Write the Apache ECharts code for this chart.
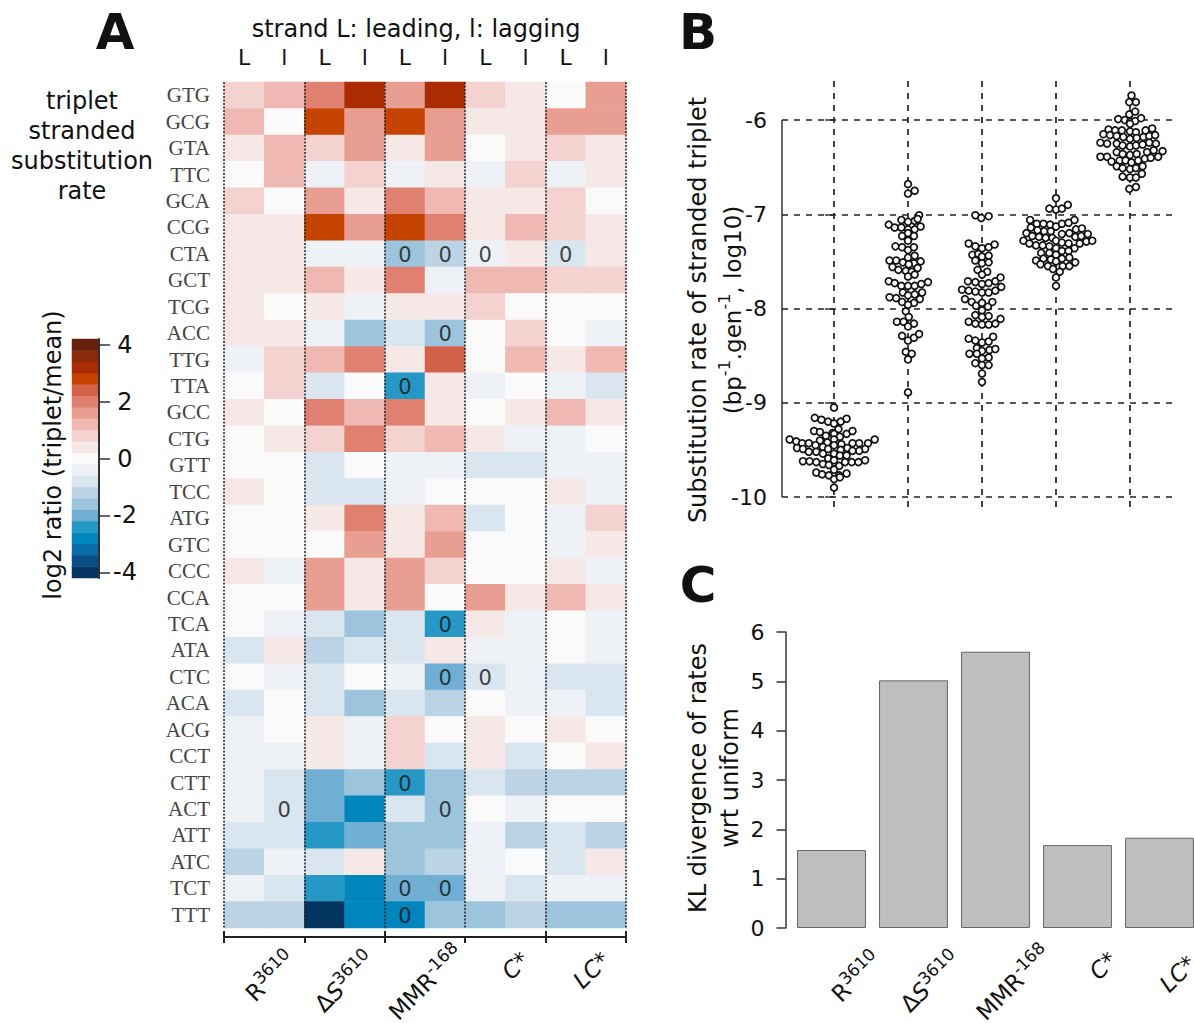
<!DOCTYPE html>
<html>
<head>
<meta charset="utf-8">
<title>Triplet substitution rates</title>
<script src="https://cdn.jsdelivr.net/npm/echarts@6/dist/echarts.min.js"></script>
<style>
  html, body { margin: 0; padding: 0; background: #fff; }
  #main { width: 1194px; height: 1023px; }
</style>
</head>
<body>
<div id="main"></div>
<script>
const FONT = '"DejaVu Sans", sans-serif';
const TEXTCOLOR = '#111';

const triplets = ['GTG','GCG','GTA','TTC','GCA','CCG','CTA','GCT','TCG','ACC','TTG','TTA','GCC','CTG','GTT','TCC',
  'ATG','GTC','CCC','CCA','TCA','ATA','CTC','ACA','ACG','CCT','CTT','ACT','ATT','ATC','TCT','TTT'];
const strands = ['L','l','L','l','L','l','L','l','L','l'];
const conditions = ['{b|R}{s|3610}', '{b|Δ}{i|S}{s|3610}', '{b|MMR}{s|-168}', '{i|C*}', '{i|LC*}'];

// log2(triplet/mean), one row per triplet, columns as in strands
const log2Ratio = [
  [.8,1.2,2,3.2,1.6,3.2,.8,.4,0,1.6],
  [1.2,0,2.8,1.6,2.8,1.6,.4,.4,1.6,1.6],
  [.4,1.2,.8,1.6,.4,1.6,0,.4,.8,.4],
  [0,1.2,-.4,.8,-.4,.4,-.4,.8,-.4,.4],
  [.8,0,1.6,.4,2,1.2,.4,.4,.8,0],
  [.4,.4,2.8,1.6,2.8,2,.4,1.2,.8,.4],
  [.4,.4,-.4,-.4,-1.6,-1.2,-.4,.4,-.8,.4],
  [.4,.4,1.2,.4,2,-.4,1.2,1.2,.8,.8],
  [.4,0,.4,-.4,.4,.4,.8,0,0,0],
  [.4,.4,-.4,-1.6,-.8,-1.6,0,.8,0,-.4],
  [-.4,.8,1.2,2,.4,2.4,0,1.2,.4,1.2],
  [0,.8,-.8,0,-2.4,.4,-.4,0,-.4,-.8],
  [.4,0,2,1.2,2,.4,0,.4,1.2,.4],
  [0,.4,.8,2,.8,1.2,.4,-.4,-.4,0],
  [0,0,-.8,0,-.4,-.4,-.8,-.8,-.4,-.4],
  [.4,0,-.8,-.8,-.4,0,0,0,.4,-.4],
  [0,0,.4,2,.4,1.2,-.8,0,-.4,.8],
  [0,0,0,1.6,.4,1.6,0,0,-.4,.4],
  [.4,-.4,1.6,.4,1.6,.8,0,0,.4,-.4],
  [0,0,1.6,.4,1.6,0,1.6,.4,1.2,.4],
  [0,-.4,-.8,-1.6,-.8,-2.4,.4,-.4,0,-.4],
  [-.8,.4,-1.2,-.8,-.8,.4,-.4,-.4,0,-.4],
  [0,-.4,-.8,0,-.4,-2,-.8,-.4,-.8,-.8],
  [-.8,0,-.8,-1.6,-.8,-1.2,0,-.4,-.4,-.8],
  [-.4,0,.4,-.4,.8,0,.4,0,.4,0],
  [-.4,-.4,.4,-.4,.8,-.8,.4,-.8,0,.4],
  [-.4,-.8,-2,-1.6,-2.4,-1.6,-.8,-1.2,-1.2,-1.2],
  [-.4,-.8,-2,-2.8,-.8,-1.6,0,-.4,0,0],
  [-.8,-.8,-2.4,-2,-1.6,-1.6,-.4,-1.2,-.8,-1.2],
  [-1.2,-.4,-.8,.4,-1.6,-1.2,-.4,0,-.8,.4],
  [-.4,-.8,-2.4,-2.8,-2,-2,-.4,-.8,-.4,-.4],
  [-1.2,-1.2,-4,-2.8,-2.8,-1.6,-1.6,-1.2,-1.6,-1.6]
];

// cells holding no observed substitution: [column, row]
const zeroCells = [[4,6],[5,6],[6,6],[8,6],[5,9],[4,11],[5,20],[5,22],[6,22],[4,26],[1,27],[5,27],[4,30],[5,30],[4,31]];

const colorbarLevels = [-3.96,-3.56,-3.17,-2.77,-2.38,-1.98,-1.58,-1.19,-.79,-.4,0,.4,.79,1.19,1.58,1.98,2.38,2.77,3.17,3.56,3.96];
const colorbarColors = ['#033560','#0a4f83','#0a6ca8','#0086bd','#2698c6','#70afd3','#9cc4dd','#bcd3e6','#d9e5ef','#eef1f6','#fafafa',
  '#f5e8e6','#f3d2cf','#f0b8b2','#e99e92','#e08070','#d4624a','#c54400','#aa2c00','#8a2a0a','#67200c'];

// panel B, one list per condition: [sideways offset in the swarm, log10 rate]
const swarmR = [[0,-9.05],[-.26,-9.16],[-.17,-9.18],[-.08,-9.2],[0,-9.22],[.09,-9.2],[.17,-9.17],[-.27,-9.3],[-.19,-9.31],[-.11,-9.35],[-.02,-9.32],[.06,-9.28],[.17,-9.33],[.25,-9.3],
  [0,-9.33],[.08,-9.36],[0,-9.39],[-.6,-9.39],[-.51,-9.41],[-.43,-9.43],[-.34,-9.43],[-.19,-9.4],[-.09,-9.42],[.1,-9.44],[.25,-9.43],[.34,-9.43],[.46,-9.43],[.55,-9.39],
  [-.5,-9.48],[-.42,-9.49],[-.25,-9.45],[-.15,-9.47],[0,-9.45],[.18,-9.48],[.42,-9.49],[.34,-9.51],[.25,-9.51],[.09,-9.5],[-.34,-9.52],[-.24,-9.52],[-.15,-9.54],[-.08,-9.49],
  [0,-9.54],[.08,-9.56],[.17,-9.56],[-.08,-9.59],[-.42,-9.62],[-.33,-9.62],[-.24,-9.63],[-.15,-9.65],[-.07,-9.66],[0,-9.61],[.07,-9.67],[.15,-9.63],[.24,-9.63],[.33,-9.63],[.42,-9.61],
  [-.24,-9.74],[-.16,-9.76],[-.07,-9.77],[0,-9.71],[.07,-9.77],[.17,-9.75],[0,-9.81],[.08,-9.79],[0,-9.9]];
const swarmS = [[0,-6.68],[.09,-6.75],[0,-6.78],[.15,-7.01],[.09,-7.07],[0,-7.08],[-.09,-7.06],[-.26,-7.11],[-.18,-7.14],[-.09,-7.14],[0,-7.16],[.09,-7.16],[.17,-7.13],[.13,-7.05],
  [-.08,-7.23],[0,-7.2],[.08,-7.23],[0,-7.28],[-.17,-7.34],[-.08,-7.35],[0,-7.38],[.08,-7.35],[.09,-7.44],[0,-7.46],[-.25,-7.49],[-.16,-7.49],[-.07,-7.51],[.17,-7.5],[.08,-7.52],[.01,-7.53],
  [-.21,-7.56],[-.13,-7.59],[-.03,-7.6],[.05,-7.61],[.13,-7.57],[0,-7.66],[.09,-7.64],[-.26,-7.71],[-.18,-7.73],[-.09,-7.76],[0,-7.76],[.09,-7.76],[.18,-7.74],[.27,-7.72],
  [-.07,-7.83],[.09,-7.85],[.19,-7.83],[-.25,-7.88],[-.16,-7.89],[0,-7.86],[.16,-7.9],[-.08,-7.93],[.08,-7.94],[0,-7.96],[-.03,-8.03],[.01,-8.09],[-.15,-8.14],[-.06,-8.14],[.08,-8.16],[0,-8.19],
  [-.08,-8.29],[0,-8.34],[.08,-8.31],[.15,-8.27],[-.03,-8.46],[.05,-8.48],[0,-8.54],[0,-8.89]];
const swarmM = [[-.09,-7.01],[-.01,-7.04],[.09,-7.02],[-.18,-7.31],[-.09,-7.34],[0,-7.36],[.09,-7.35],[.17,-7.32],[-.13,-7.43],[-.05,-7.42],[0,-7.45],[.09,-7.44],[-.09,-7.49],[0,-7.52],[.09,-7.51],
  [-.06,-7.59],[.07,-7.61],[0,-7.64],[-.19,-7.71],[-.09,-7.72],[0,-7.74],[.09,-7.73],[.18,-7.71],[.25,-7.67],[-.27,-7.8],[-.18,-7.81],[-.09,-7.82],[0,-7.83],[.09,-7.83],[.18,-7.81],[.26,-7.77],
  [-.23,-7.9],[-.14,-7.93],[-.08,-7.97],[0,-7.94],[.08,-7.98],[.14,-7.93],[0,-8.02],[-.09,-8.07],[.09,-8.08],[0,-8.09],[-.18,-8.14],[-.09,-8.16],[0,-8.17],[.09,-8.17],[.18,-8.16],[.25,-8.11],
  [-.18,-8.32],[-.09,-8.34],[0,-8.36],[.09,-8.35],[.15,-8.3],[-.07,-8.42],[0,-8.45],[.1,-8.44],[.18,-8.43],[-.17,-8.48],[-.07,-8.48],[.09,-8.52],[0,-8.53],[-.09,-8.58],[0,-8.6],[.09,-8.6],[0,-8.69],[0,-8.78]];
const swarmC = [[0,-6.83],[-.09,-6.94],[0,-6.95],[.08,-6.94],[.16,-6.9],[-.35,-7.06],[-.26,-7.1],[-.17,-7.1],[-.08,-7.11],[0,-7.13],[.08,-7.1],[.17,-7.09],[.25,-7.06],
  [-.34,-7.14],[-.25,-7.17],[-.16,-7.18],[-.07,-7.18],[.27,-7.16],[.35,-7.15],[-.4,-7.2],[-.32,-7.23],[-.23,-7.24],[-.14,-7.25],[-.05,-7.25],[.08,-7.21],[.18,-7.2],[.26,-7.24],[.34,-7.23],[.43,-7.21],
  [-.44,-7.28],[-.36,-7.31],[-.27,-7.33],[-.18,-7.33],[-.09,-7.34],[0,-7.28],[.08,-7.3],[.17,-7.31],[.25,-7.36],[.32,-7.31],[.41,-7.29],[.49,-7.28],[0,-7.36],[.08,-7.39],[.17,-7.39],
  [-.2,-7.41],[-.09,-7.41],[0,-7.43],[-.27,-7.49],[-.17,-7.47],[-.07,-7.48],[.08,-7.47],[.18,-7.46],[.26,-7.51],[-.21,-7.53],[-.11,-7.55],[0,-7.5],[.09,-7.55],[.18,-7.55],[-.04,-7.58],[.05,-7.61],[0,-7.67],[0,-7.76]];
const swarmLC = [[.02,-5.74],[-.01,-5.81],[.08,-5.81],[-.01,-5.94],[.07,-5.91],[-.16,-5.99],[-.07,-6],[0,-6.02],[.07,-6.01],[.15,-5.98],[0,-6.04],[-.29,-6.1],[-.2,-6.11],[-.11,-6.11],[0,-6.12],[.08,-6.13],[.21,-6.11],[.3,-6.09],
  [-.36,-6.15],[-.27,-6.16],[-.18,-6.17],[-.09,-6.18],[0,-6.2],[.09,-6.19],[.18,-6.18],[.26,-6.17],[.34,-6.16],[-.4,-6.24],[-.31,-6.25],[-.18,-6.25],[-.1,-6.27],[0,-6.28],[.08,-6.27],[.17,-6.26],[.26,-6.24],[.35,-6.25],
  [-.18,-6.34],[-.1,-6.36],[0,-6.37],[.09,-6.36],[.23,-6.34],[.32,-6.32],[.44,-6.33],[-.4,-6.39],[-.31,-6.39],[-.25,-6.44],[-.14,-6.43],[-.06,-6.43],[.02,-6.45],[.11,-6.43],[.2,-6.41],[.28,-6.4],[.38,-6.39],
  [-.18,-6.49],[-.1,-6.51],[0,-6.52],[.08,-6.51],[.17,-6.49],[.16,-6.57],[-.1,-6.6],[0,-6.61],[.08,-6.61],[.08,-6.71],[-.01,-6.73]];
const swarms = [swarmR, swarmS, swarmM, swarmC, swarmLC];

const rateTicks = [-10,-9,-8,-7,-6];
const swarmPositions = [0,1,2,3,4];
const swarmXMin = -0.703;

// panel C
const klDivergence = [1.58, 5.02, 5.6, 1.68, 1.83];

const richLabel = {
  b: { fontFamily: FONT, fontSize: 23, color: TEXTCOLOR, lineHeight: 27, verticalAlign: 'bottom' },
  i: { fontFamily: FONT, fontSize: 23, color: TEXTCOLOR, fontStyle: 'italic', lineHeight: 27, verticalAlign: 'bottom' },
  s: { fontFamily: FONT, fontSize: 17, color: TEXTCOLOR, lineHeight: 27, verticalAlign: 'top' }
};

// rotated labels sit past their tick, each nudged on its own
const labelPadA = [[0,-38,3,0], [0,-37,4.2,0], [0,-47.5,1.4,0], [0,-32.6,12.8,0], [0,-32.6,12.8,0]];
const labelPadC = [[0,-65,4.2,0], [0,-63,8.4,0], [0,-73.4,5.6,0], [0,-57.5,19,0], [0,-53,18,0]];
const paddedConditions = pads => conditions.map((value, i) => ({ value, textStyle: { padding: pads[i] } }));

const heatCells = [];
log2Ratio.forEach((row, r) => row.forEach((v, c) => heatCells.push([c, r, v])));
const colorbarCells = colorbarLevels.map((v, i) => [0, i, v]);
const bandWidth = 0.396;
const pieces = colorbarColors.map((color, i) => ({
  min: (i - 10.5) * bandWidth,
  max: (i - 9.5) * bandWidth,
  color
}));

function label(text, x, y, size, extra) {
  return {
    type: 'text', x, y, z: 50,
    style: Object.assign({ text, fill: TEXTCOLOR, font: size + 'px ' + FONT, textAlign: 'center', textVerticalAlign: 'middle' }, extra)
  };
}
function sideLabel(text, x, y, size) {
  const el = label(text, x, y, size);
  el.rotation = Math.PI / 2;
  return el;
}
const panelLetter = (text, x, y) => label(text, x, y, 50, { font: 'bold 50px ' + FONT });

const myChart = echarts.init(document.getElementById('main'), null, { renderer: 'svg' });

myChart.setOption({
  animation: false,
  backgroundColor: '#fff',
  textStyle: { fontFamily: FONT },
  grid: [
    { left: 224, top: 82, width: 402, height: 846, outerBoundsMode: 'none' },       // heat map
    { left: 72, top: 339, width: 27, height: 239, outerBoundsMode: 'none' },        // colour bar
    { left: 782, top: 80, width: 393, height: 427, outerBoundsMode: 'none' },       // swarm
    { left: 790.5, top: 632, width: 410, height: 296, outerBoundsMode: 'none' }     // bars
  ],
  visualMap: { show: false, type: 'piecewise', seriesIndex: [0, 1], pieces },
  xAxis: [
    {
      gridIndex: 0, type: 'category', position: 'top', data: strands,
      axisLine: { show: false }, axisTick: { show: false },
      axisLabel: { interval: 0, margin: 14, fontSize: 22, color: TEXTCOLOR, fontFamily: FONT }
    },
    {
      gridIndex: 0, type: 'category', position: 'bottom', offset: 9, z: 10, data: paddedConditions(labelPadA),
      axisLine: { show: true, lineStyle: { color: '#222', width: 2 } },
      axisTick: { show: true, length: 6, lineStyle: { color: '#222', width: 2 } },
      splitLine: { show: true, interval: 0, lineStyle: { color: '#222', type: [2, 1.5], width: 1.5 } },
      axisLabel: {
        interval: 0, rotate: 45, margin: 45, align: 'right', verticalAlign: 'middle', rich: richLabel
      }
    },
    {
      gridIndex: 0, type: 'category', position: 'bottom', offset: 9, data: conditions,
      axisLine: { show: false }, axisLabel: { show: false },
      axisTick: { show: true, inside: true, length: 6, lineStyle: { color: '#222', width: 2 } }
    },
    { gridIndex: 1, type: 'category', data: ['bar'], show: false },
    {
      gridIndex: 2, type: 'value', min: swarmXMin, max: 4.608,
      axisLine: { show: false }, axisLabel: { show: false },
      axisTick: { show: false },
      splitLine: { show: false }
    },
    {
      gridIndex: 3, type: 'category', data: paddedConditions(labelPadC),
      axisLine: { show: false }, axisTick: { show: false },
      axisLabel: {
        interval: 0, rotate: 45, margin: 74, align: 'right', verticalAlign: 'middle', rich: richLabel
      }
    }
  ],
  yAxis: [
    {
      gridIndex: 0, type: 'category', inverse: true, data: triplets,
      axisLine: { show: false }, axisTick: { show: false },
      axisLabel: { interval: 0, margin: 14, fontSize: 21, color: '#444', fontFamily: '"Liberation Serif", serif' }
    },
    {
      gridIndex: 1, type: 'category', position: 'right', data: colorbarLevels, z: 10,
      axisLine: { show: true, lineStyle: { color: '#333', width: 2 } },
      axisTick: { show: true, interval: 4, alignWithLabel: true, length: 11, lineStyle: { color: '#333', width: 1.5 } },
      axisLabel: {
        interval: 4, margin: 26, fontSize: 24, color: TEXTCOLOR, align: 'center',
        formatter: v => String(Math.round(+v))
      }
    },
    {
      gridIndex: 2, type: 'value', min: -10.106, max: -5.575,
      axisLine: { show: false },
      axisTick: { show: true, length: 9, customValues: rateTicks, lineStyle: { color: '#333', width: 1.5 } },
      axisLabel: { margin: 15, fontSize: 22, color: TEXTCOLOR, customValues: rateTicks },
      splitLine: { show: false }
    },
    {
      gridIndex: 3, type: 'value', min: 0, max: 6, interval: 1, offset: 5,
      axisLine: { show: true, lineStyle: { color: '#333', width: 1.5 } },
      axisTick: { show: true, length: 9, lineStyle: { color: '#333', width: 1.5 } },
      axisLabel: { margin: 21, fontSize: 22, color: TEXTCOLOR },
      splitLine: { show: false }
    }
  ],
  series: [
    {
      type: 'heatmap', xAxisIndex: 0, yAxisIndex: 0, data: heatCells,
      emphasis: { disabled: true }, silent: true
    },
    {
      type: 'heatmap', xAxisIndex: 3, yAxisIndex: 1, data: colorbarCells,
      emphasis: { disabled: true }, silent: true
    },
    {
      type: 'scatter', xAxisIndex: 0, yAxisIndex: 0, data: zeroCells, symbolSize: 0, silent: true, z: 20,
      label: { show: true, position: 'inside', offset: [0, 1], formatter: '0', fontSize: 21, color: TEXTCOLOR, fontFamily: FONT }
    },
    {
      // dashed reference grid of panel B
      type: 'scatter', xAxisIndex: 4, yAxisIndex: 2, data: [], silent: true,
      markLine: {
        silent: true, symbol: 'none', animation: false, label: { show: false },
        lineStyle: { color: '#222', type: [6, 6], width: 1.7 },
        data: swarmPositions.map(x => ({ xAxis: x })).concat(rateTicks.map(y => ({ yAxis: y })))
      }
    },
    {
      // y spine of panel B, runs only between the outer ticks
      type: 'line', xAxisIndex: 4, yAxisIndex: 2, silent: true, clip: false, symbol: 'none',
      lineStyle: { color: '#333', width: 1.5 },
      data: [[swarmXMin, rateTicks[0]], [swarmXMin, rateTicks[4]]]
    }
  ].concat(swarms.map((points, i) => ({
    type: 'scatter', xAxisIndex: 4, yAxisIndex: 2, silent: true, z: 5,
    symbolSize: 6.8,
    itemStyle: { color: '#fff', borderColor: '#111', borderWidth: 1.7, opacity: 1 },
    data: points.map(p => [swarmPositions[i] + p[0], p[1]])
  }))).concat([
    {
      type: 'bar', xAxisIndex: 5, yAxisIndex: 3, data: klDivergence, barWidth: '84%', silent: true,
      itemStyle: { color: '#bebebe', borderColor: '#666', borderWidth: 1 }
    }
  ]),
  graphic: [
    panelLetter('A', 115, 32),
    panelLetter('B', 698, 32),
    panelLetter('C', 698, 585),
    label('strand L: leading, l: lagging', 416, 29, 24),
    label('triplet', 82, 101, 24),
    label('stranded', 82, 131, 24),
    label('substitution', 82, 161, 24),
    label('rate', 82, 191, 24),
    sideLabel('log2 ratio (triplet/mean)', 53, 455, 24),
    sideLabel('Substitution rate of stranded triplet', 698, 310, 24),
    {
      type: 'text', x: 730, y: 310, rotation: Math.PI / 2, z: 50,
      style: {
        text: '{b|(bp}{s|-1}{b|.gen}{s|-1}{b|, log10)}', textAlign: 'center', textVerticalAlign: 'middle',
        rich: {
          b: { fontFamily: FONT, fontSize: 23, fill: TEXTCOLOR, lineHeight: 28, verticalAlign: 'bottom' },
          s: { fontFamily: FONT, fontSize: 16, fill: TEXTCOLOR, lineHeight: 28, verticalAlign: 'top' }
        }
      }
    },
    sideLabel('KL divergence of rates', 698, 778, 24),
    sideLabel('wrt uniform', 730, 778, 24)
  ]
});
</script>
</body>
</html>
